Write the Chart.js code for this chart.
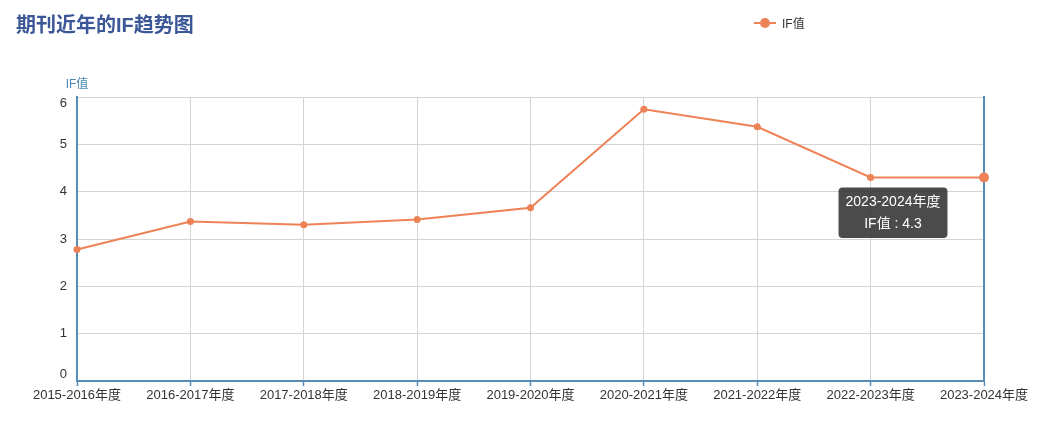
<!DOCTYPE html>
<html>
<head>
<meta charset="utf-8">
<script src="https://cdn.jsdelivr.net/npm/chart.js@4/dist/chart.umd.min.js"></script>
<style>
  body { margin: 0; background: #fff; }
  #wrap { position: relative; width: 1037px; height: 426px; }
  #chart { position: absolute; left: 0; top: 0; }
  #title {
    position: absolute; left: 16px; top: 9px;
    font: bold 20px "Liberation Sans", "Noto Sans CJK SC", sans-serif;
    color: #3b5797;
  }
  #legend {
    position: absolute; left: 754px; top: 14px;
    font: 12px "Liberation Sans", "Noto Sans CJK SC", sans-serif;
    color: #333; display: flex; align-items: center;
  }
  #legend .mark { position: relative; width: 22px; height: 12px; margin-right: 6px; }
  #legend .mark .ln { position: absolute; left: 0; right: 0; top: 5px; height: 2px;
    background: repeating-linear-gradient(90deg, #ee8257 0 6px, transparent 6px 8px); }
  #legend .mark .dot { position: absolute; left: 6px; top: 1px; width: 10px; height: 10px;
    border-radius: 50%; background: #ee8257; }
</style>
</head>
<body>
<div id="wrap">
  <canvas id="chart" width="1037" height="426"></canvas>
  <div id="title">期刊近年的IF趋势图</div>
  <div id="legend"><span class="mark"><span class="ln"></span><span class="dot"></span></span>IF值</div>
</div>
<script>
const years = ['2015-2016年度', '2016-2017年度', '2017-2018年度', '2018-2019年度', '2019-2020年度',
               '2020-2021年度', '2021-2022年度', '2022-2023年度', '2023-2024年度'];
const ifValues = [2.78, 3.37, 3.30, 3.41, 3.66, 5.74, 5.37, 4.3, 4.3];
const seriesName = 'IF值';
const yMin = 0;
const yMax = 6;

const axisBlue = '#5a8db6';
const lineColor = '#ee8257';
const fontFamily = '"Liberation Sans", "Noto Sans CJK SC", sans-serif';

// tooltip sits below-left of the hovered point
Chart.Tooltip.positioners.belowLeft = function (items) {
    if (!items.length) return false;
    const el = items[0].element;
    return { x: el.x - 91, y: el.y + 10, xAlign: 'center', yAlign: 'top' };
};

// horizontal y-axis name and y tick labels (end labels kept inside the axis)
const yAxisText = {
    id: 'yAxisText',
    afterDraw(chart) {
        const ctx = chart.ctx;
        const area = chart.chartArea;
        const y = chart.scales.y;
        ctx.save();
        ctx.font = '12px ' + fontFamily;
        ctx.fillStyle = '#4a88b0';
        ctx.textAlign = 'center';
        ctx.textBaseline = 'middle';
        ctx.fillText(seriesName, area.left, area.top - 12);

        ctx.font = '13px ' + fontFamily;
        ctx.fillStyle = '#333';
        ctx.textAlign = 'right';
        y.ticks.forEach((t) => {
            let py = y.getPixelForValue(t.value);
            if (t.value === yMax) py += 6;
            if (t.value === yMin) py -= 7;
            ctx.fillText(String(t.value), area.left - 10, py);
        });
        ctx.restore();
    }
};

const ctx = document.getElementById('chart').getContext('2d');
const chart = new Chart(ctx, {
    type: 'line',
    data: {
        labels: years,
        datasets: [{
            label: seriesName,
            data: ifValues,
            borderColor: lineColor,
            backgroundColor: lineColor,
            hoverBackgroundColor: lineColor,
            pointHoverBackgroundColor: lineColor,
            borderWidth: 2,
            pointRadius: 3.5,
            pointHoverRadius: 5,
            pointBorderWidth: 0,
            pointHoverBorderWidth: 0,
            tension: 0,
            clip: false
        }]
    },
    options: {
        responsive: false,
        animation: false,
        layout: { padding: { left: 0, right: 53, top: 97, bottom: 0 } },
        plugins: {
            legend: { display: false },
            title: { display: false },
            tooltip: {
                position: 'belowLeft',
                backgroundColor: 'rgba(50,50,50,0.88)',
                cornerRadius: 4,
                caretSize: 0,
                caretPadding: 0,
                displayColors: false,
                padding: { x: 7, y: 6 },
                titleAlign: 'center',
                bodyAlign: 'center',
                titleFont: { family: fontFamily, size: 14, weight: 'normal' },
                bodyFont: { family: fontFamily, size: 14 },
                titleMarginBottom: 5,
                callbacks: {
                    label: (item) => item.dataset.label + ' : ' + item.parsed.y
                }
            }
        },
        scales: {
            x: {
                grid: {
                    color: '#d4d4d4',
                    drawTicks: true,
                    tickLength: 5,
                    tickColor: axisBlue,
                    tickWidth: 1.5
                },
                border: { color: axisBlue, width: 2 },
                ticks: {
                    color: '#333',
                    font: { family: fontFamily, size: 13 },
                    maxRotation: 0,
                    autoSkip: false,
                    padding: 2
                },
                afterFit(scale) { scale.height = 45; }
            },
            y: {
                min: yMin,
                max: yMax,
                grid: { color: '#d4d4d4', drawTicks: false },
                border: { color: axisBlue, width: 2 },
                ticks: { stepSize: 1, display: false },
                afterFit(scale) { scale.width = 77; }
            },
            y2: {
                position: 'right',
                min: yMin,
                max: yMax,
                grid: { display: false, drawTicks: false },
                border: { color: axisBlue, width: 2 },
                ticks: { display: false },
                afterFit(scale) { scale.width = 0; }
            }
        }
    },
    plugins: [yAxisText]
});

const active = [{ datasetIndex: 0, index: ifValues.length - 1 }];
chart.setActiveElements(active);
const pt = chart.getDatasetMeta(0).data[ifValues.length - 1];
chart.tooltip.setActiveElements(active, { x: pt.x, y: pt.y });
chart.update('none');
</script>
</body>
</html>
